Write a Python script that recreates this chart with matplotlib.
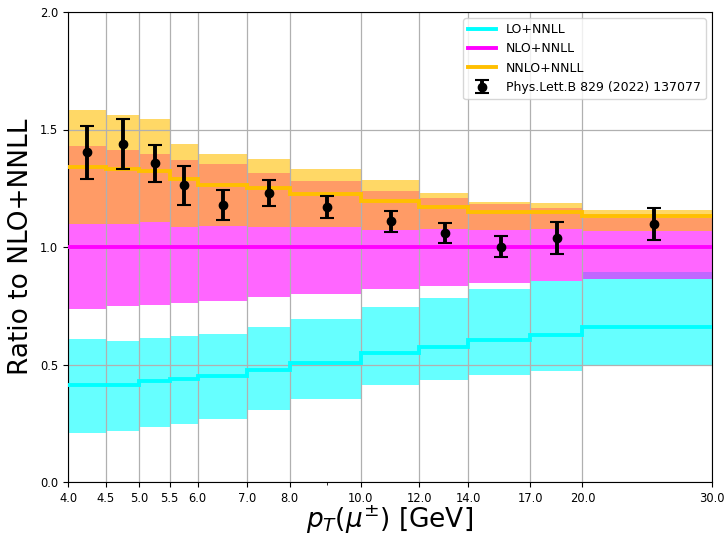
import matplotlib
matplotlib.use("Agg")
import matplotlib.pyplot as plt
from matplotlib.ticker import FixedLocator, FixedFormatter, NullFormatter

edges = [4.0, 4.5, 5.0, 5.5, 6.0, 7.0, 8.0, 10.0, 12.0, 14.0, 17.0, 20.0, 30.0]
tick_labels = ["4.0", "4.5", "5.0", "5.5", "6.0", "7.0", "8.0", "10.0", "12.0", "14.0", "17.0", "20.0", "30.0"]

lo_central = [0.413, 0.413, 0.428, 0.440, 0.450, 0.478, 0.507, 0.550, 0.576, 0.605, 0.627, 0.660]
lo_up = [0.607, 0.600, 0.613, 0.623, 0.631, 0.661, 0.692, 0.746, 0.784, 0.821, 0.855, 0.894]
lo_down = [0.207, 0.217, 0.234, 0.248, 0.268, 0.308, 0.353, 0.413, 0.434, 0.455, 0.474, 0.498]

nlo_central = [1.0] * 12
nlo_up = [1.430, 1.413, 1.394, 1.370, 1.353, 1.316, 1.281, 1.238, 1.210, 1.183, 1.167, 1.124]
nlo_down = [0.738, 0.747, 0.755, 0.763, 0.772, 0.786, 0.801, 0.820, 0.834, 0.847, 0.856, 0.865]

nnlo_central = [1.339, 1.331, 1.325, 1.288, 1.265, 1.252, 1.226, 1.196, 1.172, 1.149, 1.150, 1.132]
nnlo_up = [1.583, 1.562, 1.543, 1.440, 1.394, 1.373, 1.331, 1.285, 1.231, 1.193, 1.186, 1.158]
nnlo_down = [1.097, 1.098, 1.106, 1.086, 1.089, 1.084, 1.084, 1.071, 1.077, 1.071, 1.075, 1.067]

data_x = [4.25, 4.75, 5.25, 5.75, 6.5, 7.5, 9.0, 11.0, 13.0, 15.5, 18.5, 25.0]
data_y = [1.406, 1.438, 1.356, 1.264, 1.179, 1.230, 1.172, 1.109, 1.061, 1.001, 1.040, 1.098]
data_err_up = [0.110, 0.108, 0.080, 0.082, 0.064, 0.055, 0.046, 0.044, 0.042, 0.046, 0.068, 0.067]
data_err_down = [0.115, 0.106, 0.078, 0.085, 0.063, 0.057, 0.047, 0.046, 0.045, 0.045, 0.070, 0.068]

c_lo = "#00ffff"
c_nlo = "#ff00ff"
c_nnlo = "#ffbf00"

fig = plt.figure(figsize=(7.28, 5.35), dpi=100)
ax = fig.add_axes([68 / 728, 1 - 482 / 535, (712 - 68) / 728, (482 - 12) / 535])

ax.stairs(lo_up, edges, baseline=lo_down, fill=True, color=c_lo, alpha=0.6, lw=0)
ax.stairs(nlo_up, edges, baseline=nlo_down, fill=True, color=c_nlo, alpha=0.6, lw=0)
ax.stairs(nnlo_up, edges, baseline=nnlo_down, fill=True, color=c_nnlo, alpha=0.6, lw=0)

ax.stairs(lo_central, edges, baseline=None, color=c_lo, lw=2.8, label="LO+NNLL", zorder=3)
ax.stairs(nlo_central, edges, baseline=None, color=c_nlo, lw=2.8, label="NLO+NNLL", zorder=3)
ax.stairs(nnlo_central, edges, baseline=None, color=c_nnlo, lw=2.8, label="NNLO+NNLL", zorder=3)

ax.errorbar(data_x, data_y, yerr=[data_err_down, data_err_up], fmt="o", color="black",
            markersize=6, elinewidth=2.8, capsize=5, capthick=1.5, zorder=5,
            label="Phys.Lett.B 829 (2022) 137077")

ax.set_xscale("log")
ax.set_xlim(edges[0], edges[-1])
ax.set_ylim(0.0, 2.0)
ax.xaxis.set_major_locator(FixedLocator(edges))
ax.xaxis.set_major_formatter(FixedFormatter(tick_labels))
ax.xaxis.set_minor_formatter(NullFormatter())
ax.set_yticks([0.0, 0.5, 1.0, 1.5, 2.0])
ax.set_yticklabels(["0.0", "0.5", "1.0", "1.5", "2.0"])
ax.tick_params(axis="both", labelsize=8.3)
ax.grid(True, which="major", color="#b0b0b0", lw=0.9)

ax.set_xlabel(r"$p_T(\mu^{\pm})$ [GeV]", fontsize=19, labelpad=-1)
ax.set_ylabel("Ratio to NLO+NNLL", fontsize=19)

ax.legend(loc="upper right", fontsize=9, handlelength=2.2)

fig.savefig("out.png", dpi=100)
